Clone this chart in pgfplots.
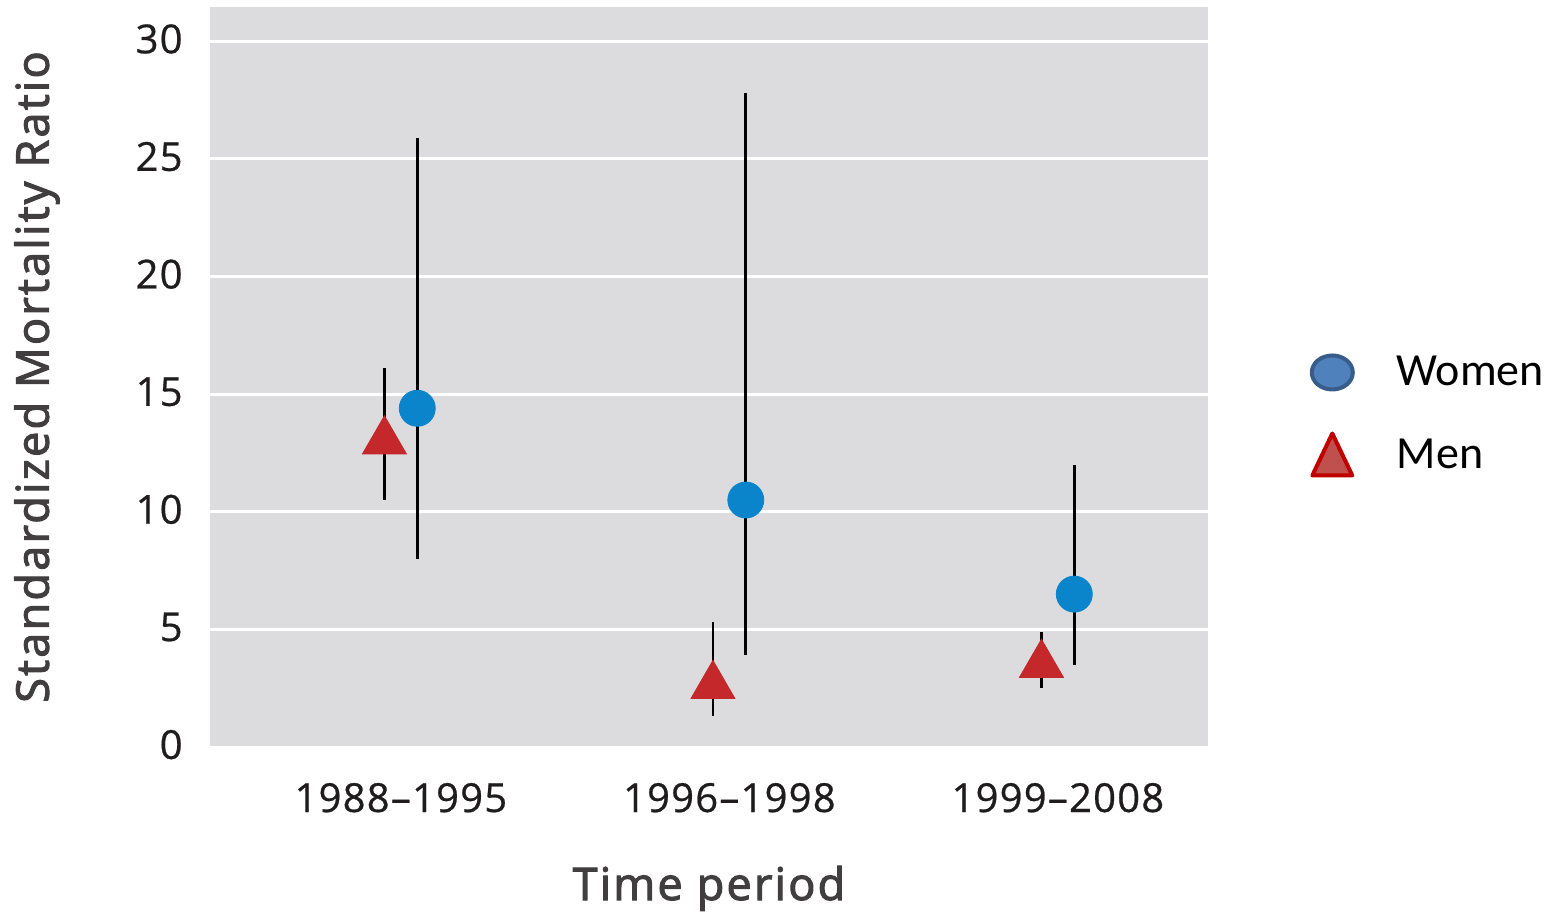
\documentclass[border=0pt]{standalone}
\usepackage{fontspec}
\setmainfont{Open Sans}
\newfontfamily\tickfont{Open Sans}[LetterSpace=3,FakeBold=0.6]
\newfontfamily\labfont{Open Sans}[LetterSpace=5,FakeBold=2.5]
\newfontfamily\legfont{Carlito}
\usepackage{pgfplots}
\usepackage{pgfplotstable}
\pgfplotsset{compat=1.18}
\definecolor{bgc}{RGB}{220,220,222}
\definecolor{womenc}{RGB}{10,133,204}
\definecolor{menc}{RGB}{196,40,42}
\definecolor{legwf}{RGB}{79,129,189}
\definecolor{legwd}{RGB}{56,93,138}
\definecolor{legmf}{RGB}{192,80,77}
\definecolor{legmd}{RGB}{192,0,0}
\definecolor{txt}{RGB}{30,28,29}
\pgfplotstableread{
x y ep em
0.05 14.4 11.5 6.4
1.05 10.5 17.3 6.6
2.05 6.5 5.5 3.0
}\women
\pgfplotstableread{
x y ep em
-0.05 13.0 3.1 2.5
0.95 2.6 2.7 1.3
1.95 3.5 1.4 1.0
}\men
\begin{document}
\begin{tikzpicture}
\path[use as bounding box] (-105pt,-82.5pt) rectangle (677pt,373.5pt);
\begin{axis}[
  at={(0,0)}, anchor=south west,
  scale only axis, width=499pt, height=370pt,
  xmin=-0.581, xmax=2.457, ymin=0, ymax=31.46,
  axis background/.style={fill=bgc},
  axis line style={draw=none},
  tick style={draw=none},
  xtick={0,1,2},
  xticklabels={1988–1995,1996–1998,1999–2008},
  ytick={0,5,10,15,20,25,30},
  ymajorgrids, grid style={white, line width=1.5pt},
  /pgf/number format/assume math mode=true,
  tick label style={font=\tickfont\fontsize{20}{24}\selectfont, text=txt, inner sep=0pt},
  x tick label style={anchor=base, yshift=-32.5pt},
  y tick label style={anchor=east, xshift=-13.5pt, yshift=1.2pt},
  xlabel={Time period},
  ylabel={Standardized Mortality Ratio},
  label style={font=\labfont\fontsize{22.5}{27}\selectfont, text=txt!85!white, inner sep=0pt},
  x label style={at={(axis description cs:0.5,0)}, anchor=base, yshift=-76.5pt},
  y label style={at={([xshift=-86.5pt]axis description cs:0,0.5)}, anchor=center, rotate=0},
  legend style={at={(axis description cs:1.102,0.448)}, anchor=west, draw=none, fill=none,
    font=\legfont\fontsize{23}{27}\selectfont, inner sep=0pt, outer sep=0pt,
    row sep=20pt, column sep=21pt, nodes={inner sep=0pt}},
  legend cell align=left,
]
\addplot[only marks, mark=*, mark size=9pt, mark options={fill=womenc, draw=womenc},
  legend image code/.code={
    \path (0cm,0cm) (0.6cm,0cm);
    \draw[fill=legwf, draw=legwd, line width=2pt] (0.3cm,0pt) ellipse [x radius=10.25pt, y radius=8.5pt];},
  error bars/.cd, y dir=both, y explicit, error mark=none,
  error bar style={line width=1.3pt, black}]
  table[x=x, y=y, y error plus=ep, y error minus=em]{\women};
\addlegendentry{Women}
\addplot[only marks, mark=triangle*, mark size=12.7pt, mark options={fill=menc, draw=menc},
  legend image code/.code={
    \path (0cm,0cm) (0.6cm,0cm);
    \draw[fill=legmf, draw=legmd, line width=2pt, line join=round]
      ([xshift=-10pt,yshift=-10pt]0.3cm,0pt) -- ([xshift=10pt,yshift=-10pt]0.3cm,0pt) -- ([yshift=11pt]0.3cm,0pt) -- cycle;},
  error bars/.cd, y dir=both, y explicit, error mark=none,
  error bar style={line width=1.3pt, black}]
  table[x=x, y=y, y error plus=ep, y error minus=em]{\men};
\addlegendentry{Men}
\end{axis}
\end{tikzpicture}
\end{document}
